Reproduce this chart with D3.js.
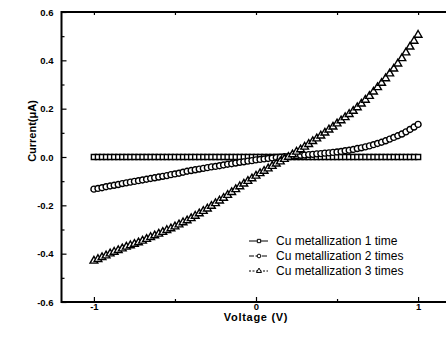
<!DOCTYPE html>
<html><head><meta charset="utf-8">
<script src="https://cdn.jsdelivr.net/npm/d3@7"></script>
<style>
html,body{margin:0;padding:0;background:#fff;}
svg{display:block;font-family:"Liberation Sans",Arial,sans-serif;}
</style></head>
<body>
<svg id="c" width="446" height="343"></svg>
<script>
const voltage = [-1.000,-0.975,-0.950,-0.925,-0.900,-0.875,-0.850,-0.825,-0.800,-0.775,-0.750,-0.725,-0.700,-0.675,-0.650,-0.625,-0.600,-0.575,-0.550,-0.525,-0.500,-0.475,-0.450,-0.425,-0.400,-0.375,-0.350,-0.325,-0.300,-0.275,-0.250,-0.225,-0.200,-0.175,-0.150,-0.125,-0.100,-0.075,-0.050,-0.025,0.000,0.025,0.050,0.075,0.100,0.125,0.150,0.175,0.200,0.225,0.250,0.275,0.300,0.325,0.350,0.375,0.400,0.425,0.450,0.475,0.500,0.525,0.550,0.575,0.600,0.625,0.650,0.675,0.700,0.725,0.750,0.775,0.800,0.825,0.850,0.875,0.900,0.925,0.950,0.975,1.000];

const currentTime1 = [0.000,0.000,0.000,0.000,0.000,0.000,0.000,0.000,0.000,0.000,0.000,0.000,0.000,0.000,0.000,0.000,0.000,0.000,0.000,0.000,0.000,0.000,0.000,0.000,0.000,0.000,0.000,0.000,0.000,0.000,0.000,0.000,0.000,0.000,0.000,0.000,0.000,0.000,0.000,0.000,0.000,0.000,0.000,0.000,0.000,0.000,0.000,0.000,0.000,0.000,0.000,0.000,0.000,0.000,0.000,0.000,0.000,0.000,0.000,0.000,0.000,0.000,0.000,0.000,0.000,0.000,0.000,0.000,0.000,0.000,0.000,0.000,0.000,0.000,0.000,0.000,0.000,0.000,0.000,0.000,0.000];

const currentTime2 = [-0.133,-0.130,-0.127,-0.123,-0.120,-0.117,-0.114,-0.110,-0.107,-0.104,-0.101,-0.098,-0.095,-0.092,-0.089,-0.086,-0.083,-0.080,-0.077,-0.073,-0.070,-0.067,-0.063,-0.059,-0.056,-0.053,-0.050,-0.047,-0.044,-0.041,-0.039,-0.036,-0.033,-0.030,-0.028,-0.025,-0.022,-0.020,-0.017,-0.015,-0.012,-0.010,-0.008,-0.006,-0.004,-0.002,-0.001,0.001,0.002,0.004,0.005,0.007,0.008,0.010,0.011,0.013,0.014,0.016,0.017,0.019,0.021,0.023,0.026,0.028,0.031,0.035,0.038,0.042,0.046,0.051,0.056,0.061,0.067,0.074,0.081,0.088,0.095,0.104,0.114,0.124,0.135];

const currentTime3 = [-0.430,-0.423,-0.415,-0.408,-0.400,-0.393,-0.386,-0.379,-0.372,-0.366,-0.360,-0.354,-0.347,-0.340,-0.332,-0.325,-0.318,-0.311,-0.303,-0.296,-0.288,-0.280,-0.271,-0.263,-0.254,-0.244,-0.234,-0.224,-0.214,-0.203,-0.192,-0.181,-0.170,-0.158,-0.146,-0.134,-0.122,-0.111,-0.100,-0.089,-0.078,-0.068,-0.058,-0.048,-0.038,-0.028,-0.019,-0.009,0.000,0.010,0.021,0.031,0.042,0.053,0.065,0.076,0.088,0.100,0.113,0.125,0.138,0.151,0.164,0.177,0.190,0.205,0.220,0.236,0.252,0.270,0.288,0.306,0.325,0.345,0.365,0.386,0.408,0.432,0.456,0.480,0.505];

const seriesNames = ["Cu metallization 1 time","Cu metallization 2 times","Cu metallization 3 times"];
const xMajorTicks = [-1, 0, 1];
const xMinorTicks = [-0.5, 0.5];
const yMajorTicks = [-0.6, -0.4, -0.2, 0.0, 0.2, 0.4, 0.6];
const yMinorTicks = [-0.5, -0.3, -0.1, 0.1, 0.3, 0.5];
const xTitle = "Voltage (V)";
const yTitle = "Current(\u03bcA)";

const svg = d3.select("#c");
const L = 61.5, R = 450.5, T = 12, B = 302;
const x = d3.scaleLinear().domain([-1.2, 1.2]).range([L, R]);
const y = d3.scaleLinear().domain([-0.6, 0.6]).range([B, T]);

const fmtY = v => d3.format(".1f")(v).replace("\u2212", "-");
const fmtX = v => d3.format("d")(v).replace("\u2212", "-");

// data markers
const symbols = [d3.symbolSquare, d3.symbolCircle, d3.symbolTriangle];
const sizes = [26, 28, 26];
const allSeries = [currentTime1, currentTime2, currentTime3];
allSeries.forEach((vals, si) => {
  const gen = d3.symbol().type(symbols[si]).size(sizes[si]);
  svg.append("g").selectAll("path").data(vals).join("path")
    .attr("d", gen)
    .attr("transform", (d, i) => `translate(${x(voltage[i])},${y(d)})`)
    .attr("fill", "#fff").attr("stroke", "#000").attr("stroke-width", 1.4);
});

// axes
function styleAxis(g) {
  g.select(".domain").remove();
  g.selectAll(".tick line").attr("stroke", "#000").attr("stroke-width", 1.2);
  g.selectAll(".tick text").attr("fill", "#000").attr("font-weight", "bold")
    .attr("font-size", 9.5).attr("font-family", "Liberation Sans, Arial, sans-serif");
}
svg.append("g").attr("transform", `translate(${L},0)`)
  .call(d3.axisLeft(y).tickValues(yMajorTicks).tickSize(-5).tickPadding(8).tickFormat(fmtY))
  .call(styleAxis);
svg.append("g").attr("transform", `translate(${L},0)`)
  .call(d3.axisLeft(y).tickValues(yMinorTicks).tickSize(-3).tickFormat(""))
  .call(styleAxis);
svg.append("g").attr("transform", `translate(0,${B})`)
  .call(d3.axisBottom(x).tickValues(xMajorTicks).tickSize(-5).tickPadding(1).tickFormat(fmtX))
  .call(styleAxis);
svg.append("g").attr("transform", `translate(0,${B})`)
  .call(d3.axisBottom(x).tickValues(xMinorTicks).tickSize(-3).tickFormat(""))
  .call(styleAxis);
svg.append("g").attr("transform", `translate(0,${T})`)
  .call(d3.axisTop(x).tickValues(xMajorTicks.concat(xMinorTicks)).tickSize(-3).tickFormat(""))
  .call(styleAxis);

// frame
svg.append("rect").attr("x", L).attr("y", T).attr("width", R - L).attr("height", B - T)
  .attr("fill", "none").attr("stroke", "#000").attr("stroke-width", 2);

// titles
svg.append("text").attr("x", (x(-1) + x(1)) / 2).attr("y", 321)
  .attr("text-anchor", "middle").attr("font-weight", "bold").attr("font-size", 11)
  .attr("letter-spacing", 0.7).text(xTitle);
svg.append("text").attr("transform", "translate(36,131) rotate(-90)")
  .attr("text-anchor", "middle").attr("font-weight", "bold").attr("font-size", 11)
  .text(yTitle);

// legend
const legY = [241, 256, 271];
const dashes = [null, "5,1.5", "2,1.5"];
seriesNames.forEach((name, i) => {
  const g = svg.append("g");
  g.append("line").attr("x1", 249).attr("x2", 268).attr("y1", legY[i]).attr("y2", legY[i])
    .attr("stroke", "#000").attr("stroke-width", 1).attr("stroke-dasharray", dashes[i]);
  g.append("path").attr("d", d3.symbol().type(symbols[i]).size(11)())
    .attr("transform", `translate(259,${legY[i]})`)
    .attr("fill", "#fff").attr("stroke", "#000").attr("stroke-width", 1);
  g.append("text").attr("x", 276).attr("y", legY[i] + 4).attr("font-size", 12)
    .attr("fill", "#000").text(name);
});
</script>
</body></html>
